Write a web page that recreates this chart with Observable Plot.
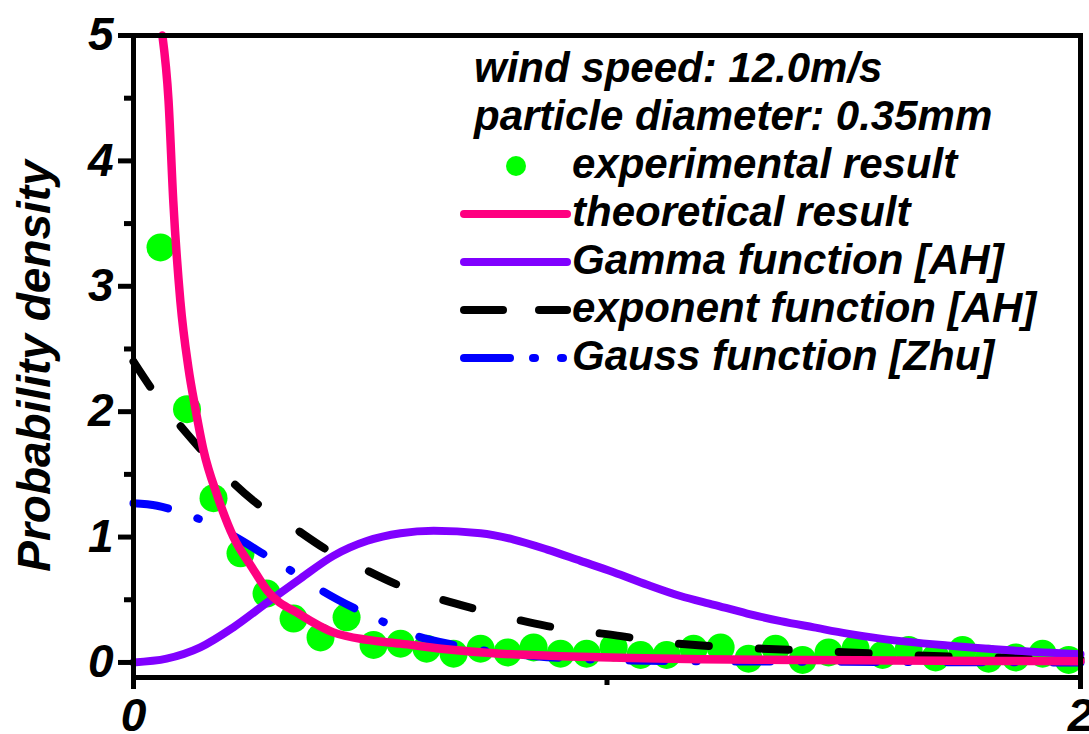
<!DOCTYPE html>
<html>
<head>
<meta charset="utf-8">
<script src="https://cdn.jsdelivr.net/npm/d3@7"></script>
<script src="https://cdn.jsdelivr.net/npm/@observablehq/plot@0.6"></script>
<style>
  html, body { margin: 0; padding: 0; background: #fff; overflow: hidden; }
  #wrap { position: relative; width: 1089px; height: 734px; }
  #overlay { position: absolute; left: 0; top: 0; pointer-events: none; }
  text { font-family: "Liberation Sans", Arial, sans-serif; font-weight: bold; font-style: italic; }
</style>
</head>
<body>
<div id="wrap"></div>
<script>
// ---- Data ----
const expX = [0.057, 0.113, 0.169, 0.226, 0.281, 0.338, 0.395, 0.450, 0.507, 0.564, 0.619, 0.676, 0.733, 0.790, 0.845, 0.902, 0.957, 1.014, 1.071, 1.126, 1.183, 1.240, 1.299, 1.356, 1.413, 1.468, 1.525, 1.582, 1.637, 1.694, 1.751, 1.806, 1.863, 1.920, 1.975];
const expY = [3.31, 2.02, 1.31, 0.87, 0.55, 0.35, 0.20, 0.36, 0.14, 0.15, 0.11, 0.07, 0.11, 0.08, 0.12, 0.07, 0.07, 0.12, 0.06, 0.06, 0.11, 0.12, 0.03, 0.11, 0.02, 0.08, 0.11, 0.06, 0.10, 0.04, 0.10, 0.03, 0.04, 0.07, 0.02];

const theoryX = [0.061, 0.074, 0.084, 0.099, 0.116, 0.131, 0.148, 0.177, 0.211, 0.250, 0.283, 0.353, 0.422, 0.494, 0.564, 0.650, 0.775, 0.900, 1.050, 1.200, 1.400, 1.600, 1.800, 2.000];
const theoryY = [5.00, 4.48, 3.68, 2.88, 2.35, 2.02, 1.69, 1.33, 1.00, 0.76, 0.57, 0.38, 0.24, 0.18, 0.15, 0.11, 0.07, 0.05, 0.035, 0.025, 0.02, 0.015, 0.012, 0.01];

const gammaX = [0, 0.070, 0.141, 0.211, 0.283, 0.353, 0.422, 0.494, 0.564, 0.634, 0.733, 0.803, 0.874, 0.944, 1.014, 1.085, 1.155, 1.226, 1.296, 1.367, 1.437, 1.508, 1.578, 1.719, 1.859, 2.000];
const gammaY = [0, 0.03, 0.12, 0.28, 0.48, 0.67, 0.85, 0.97, 1.03, 1.05, 1.03, 0.98, 0.90, 0.81, 0.72, 0.62, 0.53, 0.46, 0.39, 0.33, 0.28, 0.23, 0.19, 0.135, 0.095, 0.065];

const expoX = [0, 0.050, 0.114, 0.169, 0.253, 0.325, 0.412, 0.479, 0.564, 0.634, 0.718, 0.790, 0.874, 0.948, 1.030, 1.100, 1.200, 1.300, 1.450, 1.600, 1.750, 1.900, 2.000];
const expoY = [2.40, 2.12, 1.82, 1.59, 1.29, 1.11, 0.89, 0.76, 0.61, 0.52, 0.43, 0.36, 0.29, 0.25, 0.21, 0.17, 0.135, 0.115, 0.09, 0.065, 0.045, 0.035, 0.03];

const gaussX = [0, 0.050, 0.089, 0.141, 0.211, 0.285, 0.342, 0.399, 0.484, 0.536, 0.591, 0.676, 0.750, 0.850, 1.000, 1.200, 1.500, 2.000];
const gaussY = [1.27, 1.25, 1.21, 1.14, 1.01, 0.84, 0.71, 0.57, 0.40, 0.31, 0.22, 0.14, 0.09, 0.05, 0.02, 0.01, 0.005, 0.0];

const yTicks = [0, 1, 2, 3, 4, 5];
const yMinorTicks = [0.5, 1.5, 2.5, 3.5, 4.5];
const xTicks = [0, 2];
const xMinorTicks = [1];

const yTitle = "Probability density";
const infoLines = ["wind speed: 12.0m/s", "particle diameter: 0.35mm"];
const legendLabels = ["experimental result", "theoretical result", "Gamma function [AH]", "exponent function [AH]", "Gauss function [Zhu]"];

const C_GREEN = "#00ff00", C_PINK = "#ff0080", C_PURPLE = "#8000ff", C_BLACK = "#000000", C_BLUE = "#0000ff";

// ---- Tables ----
const zip = (xs, ys) => xs.map((x, i) => ({x, y: ys[i]}));
const exp = zip(expX, expY);
const theory = zip(theoryX, theoryY);
const gamma = zip(gammaX, gammaY);
const expo = zip(expoX, expoY);
const gauss = zip(gaussX, gaussY);

const W = 1089, H = 734;
const chart = Plot.plot({
  width: W, height: H,
  marginLeft: 133, marginRight: 9, marginTop: 35, marginBottom: 57,
  style: {fontFamily: "Liberation Sans, Arial, sans-serif", fontWeight: "bold", fontStyle: "italic", fontSize: "46px", color: "black", background: "white", overflow: "visible"},
  x: {domain: [0, 2]},
  y: {domain: [-0.12, 5]},
  marks: [
    Plot.dot(exp, {x: "x", y: "y", r: 14, fill: C_GREEN, stroke: "none"}),
    Plot.line(gauss, {x: "x", y: "y", stroke: C_BLUE, strokeWidth: 8, strokeDasharray: "35,31,1.5,38.5", strokeLinecap: "round", curve: "monotone-x"}),
    Plot.line(expo, {x: "x", y: "y", stroke: C_BLACK, strokeWidth: 8, strokeDasharray: "30,50", strokeLinecap: "round", curve: "monotone-x"}),
    Plot.line(gamma, {x: "x", y: "y", stroke: C_PURPLE, strokeWidth: 8, curve: "monotone-x"}),
    Plot.line(theory, {x: "x", y: "y", stroke: C_PINK, strokeWidth: 8.5, curve: "monotone-x"}),
    Plot.frame({stroke: "black", strokeWidth: 5}),
    Plot.axisY({ticks: yTicks, tickSize: 15, tickPadding: 5, strokeWidth: 5, fontSize: 46, label: null, tickFormat: d => String(d)}),
    Plot.axisY({ticks: yMinorTicks, tickSize: 9, strokeWidth: 5, label: null, tickFormat: () => ""}),
    Plot.axisX({ticks: xTicks, tickSize: 12, tickPadding: 9, strokeWidth: 5, fontSize: 46, label: null, tickFormat: d => String(d)}),
    Plot.axisX({ticks: xMinorTicks, tickSize: 8, strokeWidth: 5, label: null, tickFormat: () => ""})
  ]
});
const wrap = document.getElementById("wrap");
wrap.appendChild(chart);

// ---- Overlay: axis title and legend (real text) ----
const ov = d3.select(wrap).append("svg").attr("id", "overlay").attr("width", W).attr("height", H);

ov.append("text")
  .attr("transform", "translate(50,366) rotate(-90)")
  .attr("text-anchor", "middle")
  .attr("font-size", 46)
  .text(yTitle);

const lg = ov.append("g").attr("font-size", 42).attr("fill", "black");
const baseline0 = 82, step = 48;
infoLines.forEach((t, i) => {
  lg.append("text").attr("x", 474).attr("y", baseline0 + i * step).text(t);
});
const sx0 = 464, sx1 = 567, tx = 572;
legendLabels.forEach((t, i) => {
  const yb = baseline0 + (i + 2) * step;
  const yc = yb - 12;
  lg.append("text").attr("x", tx).attr("y", yb).text(t);
  const g = lg.append("g").attr("stroke-linecap", "round").attr("stroke-width", 8);
  if (i === 0) {
    g.append("circle").attr("cx", 516).attr("cy", yc).attr("r", 10).attr("fill", C_GREEN);
  } else if (i === 1) {
    g.append("line").attr("x1", sx0).attr("x2", sx1).attr("y1", yc).attr("y2", yc).attr("stroke", C_PINK);
  } else if (i === 2) {
    g.append("line").attr("x1", sx0).attr("x2", sx1).attr("y1", yc).attr("y2", yc).attr("stroke", C_PURPLE);
  } else if (i === 3) {
    g.append("line").attr("x1", sx0).attr("x2", 503).attr("y1", yc).attr("y2", yc).attr("stroke", C_BLACK);
    g.append("line").attr("x1", 539).attr("x2", sx1).attr("y1", yc).attr("y2", yc).attr("stroke", C_BLACK);
  } else {
    g.append("line").attr("x1", sx0).attr("x2", 510).attr("y1", yc).attr("y2", yc).attr("stroke", C_BLUE);
    g.append("line").attr("x1", 533).attr("x2", 535).attr("y1", yc).attr("y2", yc).attr("stroke", C_BLUE);
    g.append("line").attr("x1", 561).attr("x2", 563).attr("y1", yc).attr("y2", yc).attr("stroke", C_BLUE);
  }
});
</script>
</body>
</html>
